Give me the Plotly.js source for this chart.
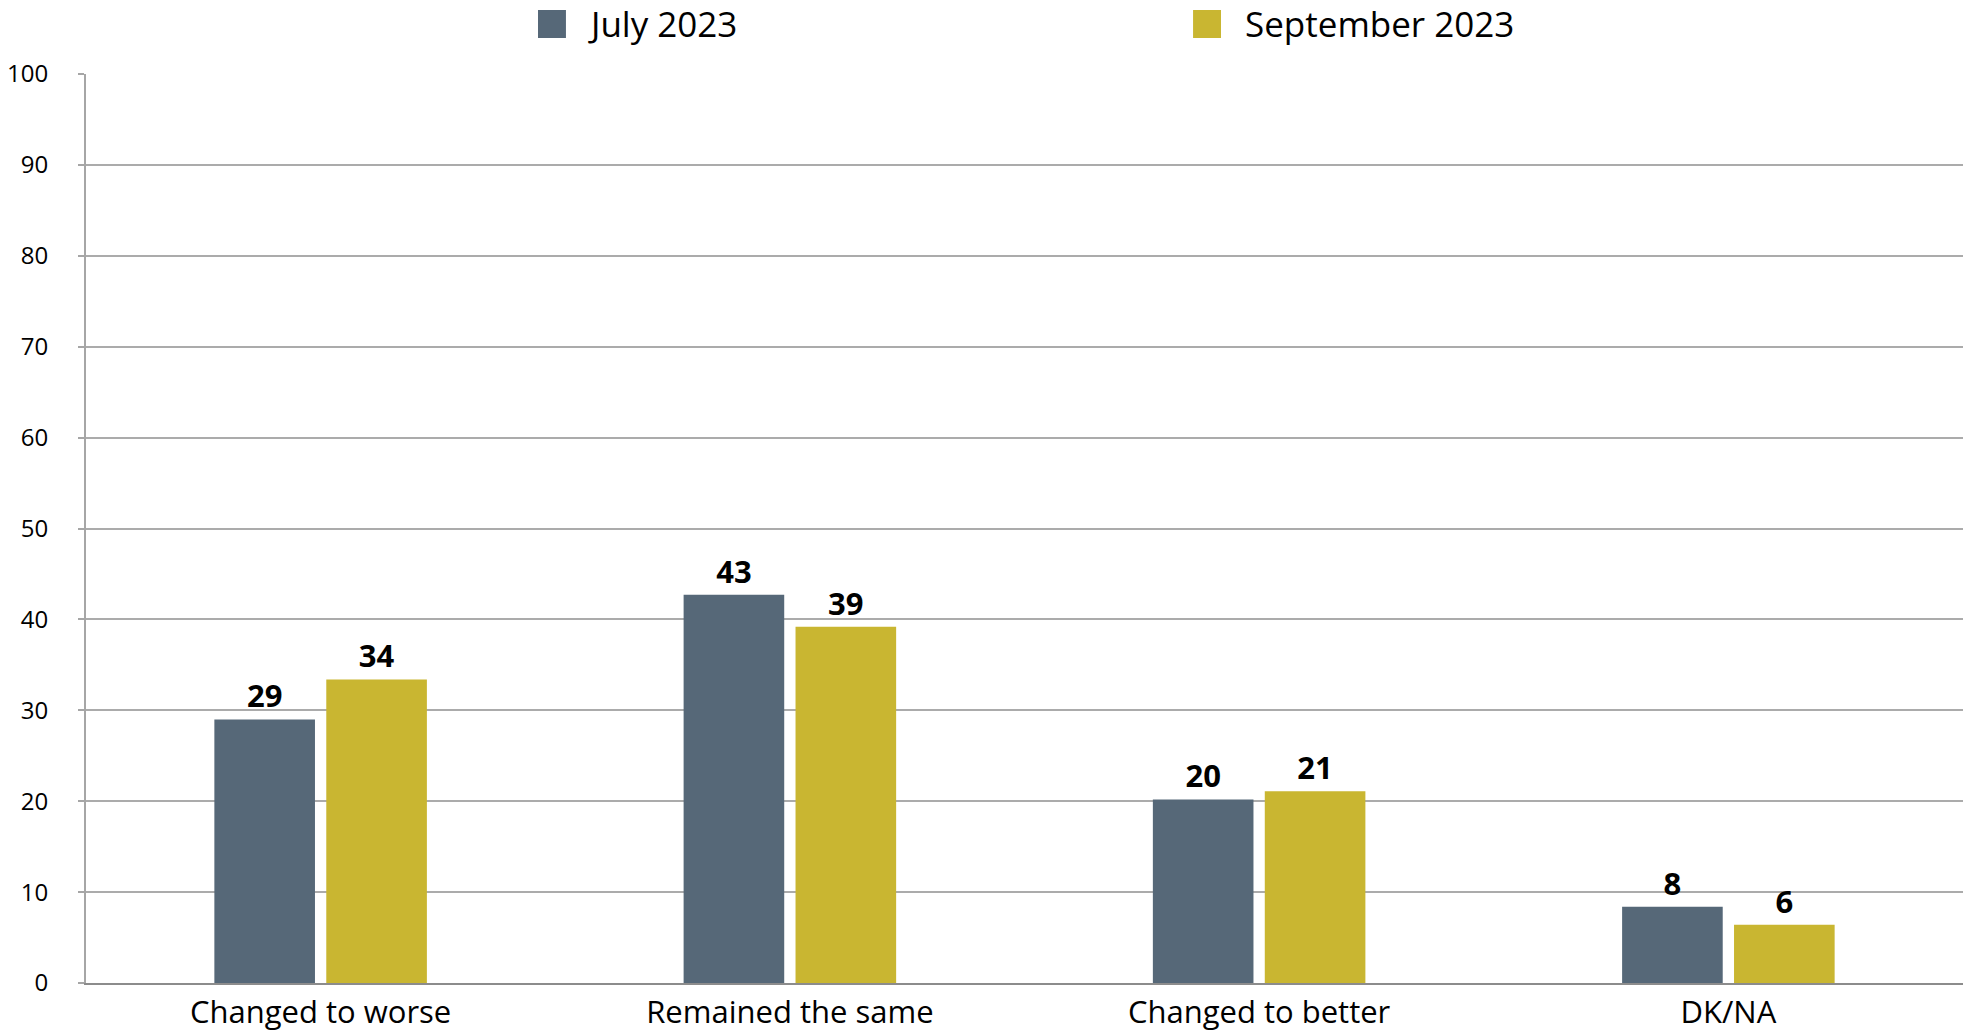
<!DOCTYPE html>
<html>
<head>
<meta charset="utf-8">
<script src="https://cdn.plot.ly/plotly-3.0.1.min.js"></script>
<style>
  html, body { margin: 0; padding: 0; background: #ffffff; }
  #chart { width: 1973px; height: 1036px; }
</style>
</head>
<body>
<div id="chart"></div>
<script>
// ---- Data ----
const categories = ["Changed to worse", "Remained the same", "Changed to better", "DK/NA"];
const seriesNames = ["July 2023", "September 2023"];
const july2023 = [29.0, 42.7, 20.2, 8.4];
const september2023 = [33.4, 39.2, 21.1, 6.4];
const july2023Labels = ["29", "43", "20", "8"];
const september2023Labels = ["34", "39", "21", "6"];
const yTickValues = [0, 10, 20, 30, 40, 50, 60, 70, 80, 90, 100];

// ---- Styles ----
const colors = ["#566878", "#c9b631"];
const fontFamily = "'Open Sans', 'Noto Sans', sans-serif";

const labelFont = { family: fontFamily, size: 31, color: "#000000", weight: 700 };

const traces = [
  {
    type: "bar",
    name: seriesNames[0],
    x: categories,
    y: july2023,
    text: july2023Labels,
    textposition: "outside",
    textfont: labelFont,
    cliponaxis: false,
    marker: { color: colors[0] },
    hoverinfo: "x+y+name",
    showlegend: false
  },
  {
    type: "bar",
    name: seriesNames[1],
    x: categories,
    y: september2023,
    text: september2023Labels,
    textposition: "outside",
    textfont: labelFont,
    cliponaxis: false,
    marker: { color: colors[1] },
    hoverinfo: "x+y+name",
    showlegend: false
  }
];

// custom legend (large square swatches like the reference)
const legendItems = [
  { x0: 0.2408, x1: 0.2557, tx: 0.2664 },
  { x0: 0.5898, x1: 0.6047, tx: 0.6164 }
];
const shapes = legendItems.map((it, i) => ({
  type: "rect", xref: "paper", yref: "paper",
  x0: it.x0, x1: it.x1, y0: 1.0396, y1: 1.0704,
  fillcolor: colors[i], line: { width: 0 }
}));
const annotations = legendItems.map((it, i) => ({
  xref: "paper", yref: "paper", x: it.tx, y: 1.056,
  xanchor: "left", yanchor: "middle", showarrow: false,
  text: seriesNames[i],
  font: { family: fontFamily, size: 35, color: "#000000" }
}));

const layout = {
  width: 1973,
  height: 1036,
  margin: { l: 86, r: 10, t: 74, b: 53 },
  paper_bgcolor: "#ffffff",
  plot_bgcolor: "#ffffff",
  barmode: "group",
  bargap: 0.523,
  bargroupgap: 0.101,
  showlegend: false,
  font: { family: fontFamily, color: "#000000" },
  xaxis: {
    type: "category",
    range: [-0.5, 3.5],
    showgrid: false,
    showline: true,
    linecolor: "#8c8c8c",
    linewidth: 2,
    ticks: "",
    tickfont: { family: fontFamily, size: 31, color: "#000000" },
    ticklabelstandoff: 1,
    zeroline: false
  },
  yaxis: {
    range: [0, 100],
    tickvals: yTickValues,
    ticktext: yTickValues.map(String),
    showgrid: true,
    gridcolor: "#ababab",
    gridwidth: 2,
    showline: true,
    linecolor: "#a6a6a6",
    linewidth: 2,
    ticks: "outside",
    ticklen: 6,
    tickwidth: 2,
    tickcolor: "#a6a6a6",
    tickfont: { family: fontFamily, size: 24, color: "#000000" },
    ticklabelstandoff: 25,
    zeroline: false
  },
  shapes: shapes,
  annotations: annotations
};

Plotly.newPlot("chart", traces, layout, { displayModeBar: false, staticPlot: true });
</script>
</body>
</html>
